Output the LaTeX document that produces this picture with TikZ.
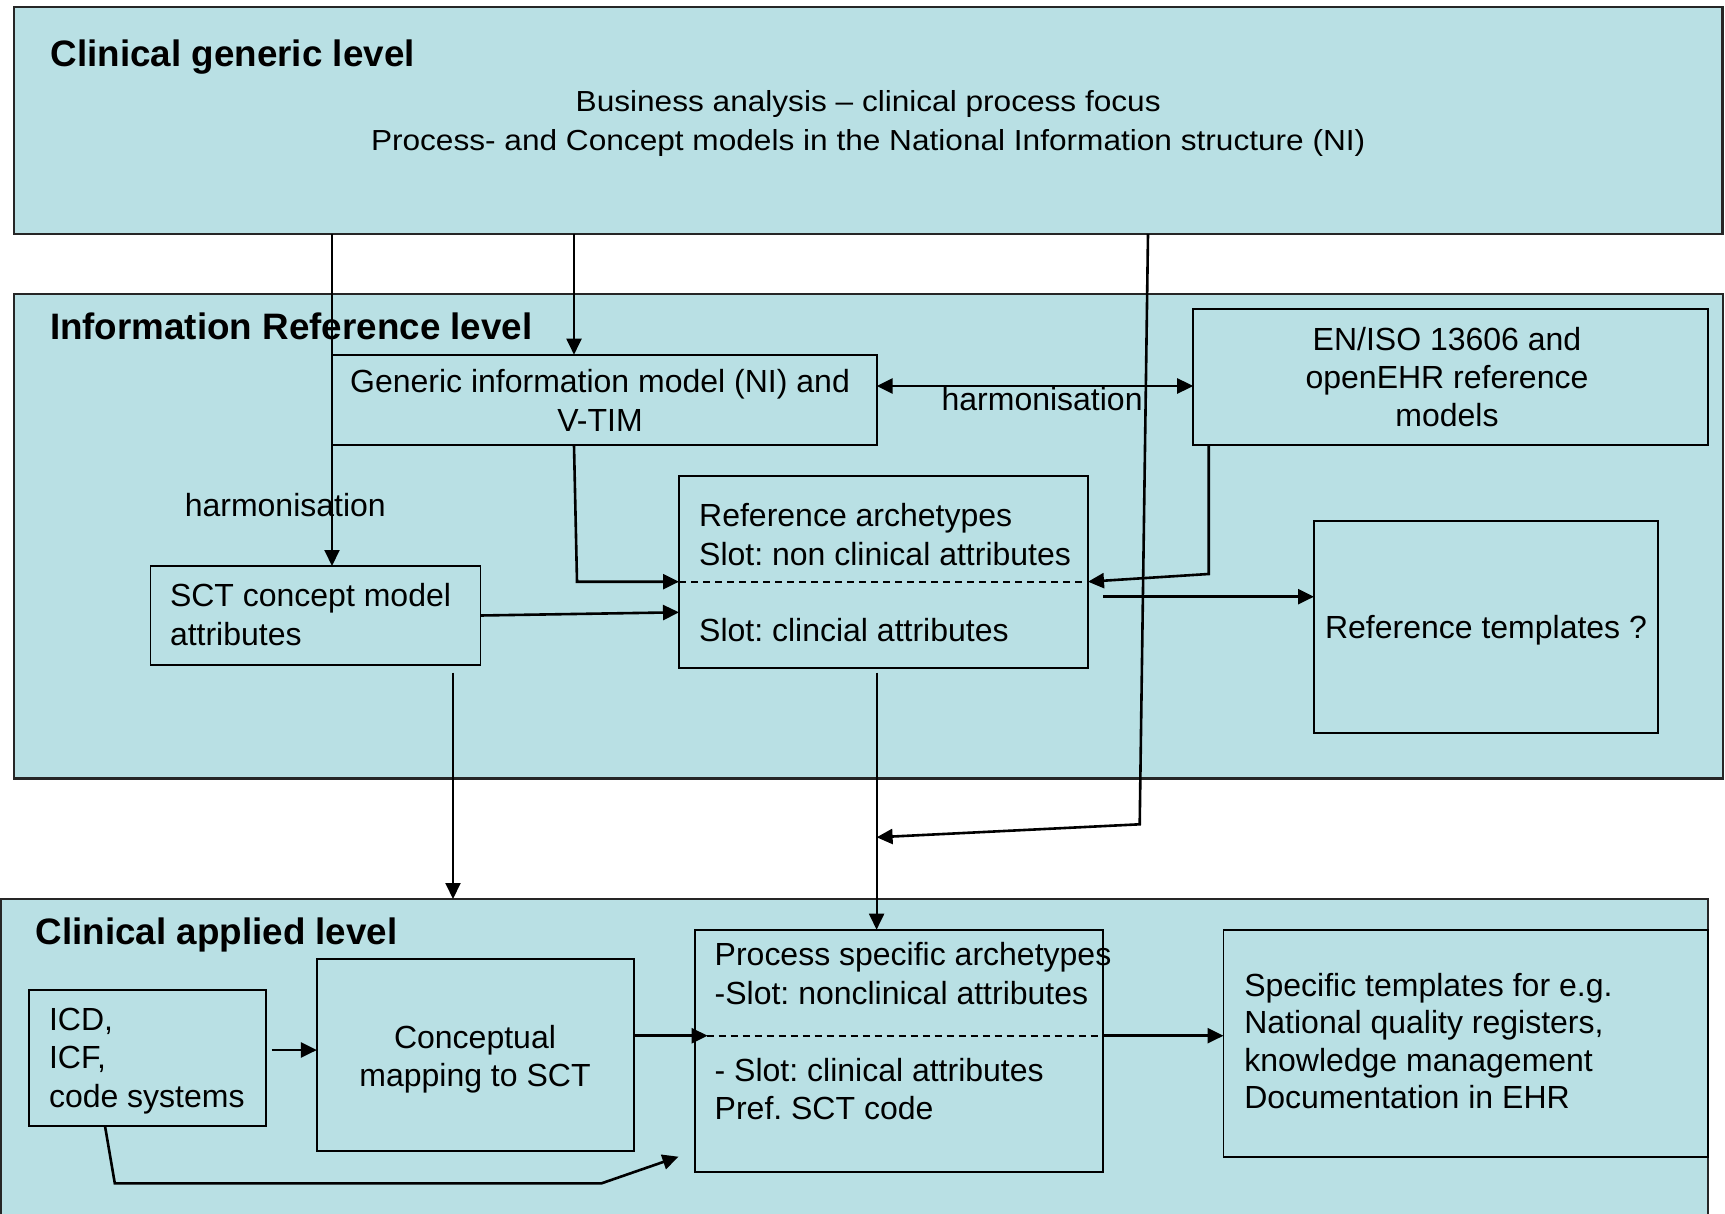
\documentclass[tikz,border=0pt]{standalone}
\usepackage{fontspec}
\setmainfont{Liberation Sans}
\newfontfamily\topfont{Liberation Sans}[FakeStretch=1.09]
\usetikzlibrary{arrows.meta,calc}
\definecolor{boxfill}{RGB}{185,224,228}
\frenchspacing
\newcommand\mkbox[6]{\node[#1, minimum width={(#5-#3)*0.5pt}, minimum height={(#6-#4)*0.5pt}, anchor=north west] (#2) at (#3,#4) {};}
\begin{document}
\begin{tikzpicture}[x=0.5pt,y=-0.5pt,
  lvl/.style={draw=black!85, line width=1.2pt, fill=boxfill, inner sep=0pt, outer sep=0pt},
  ibox/.style={draw=black, line width=0.9pt, fill=boxfill, inner sep=0pt, outer sep=0pt},
  txt/.style={inner sep=0pt, outer sep=0pt, font=\frenchspacing\fontsize{16}{19.2}\selectfont, align=left, anchor=base west},
  ctxt/.style={txt, align=center, anchor=base},
  toptxt/.style={inner sep=0pt, outer sep=0pt, font=\topfont\fontsize{14.5}{19.6}\selectfont, align=center, anchor=base},
  ttl/.style={inner sep=0pt, outer sep=0pt, anchor=base west, font=\fontsize{18.4}{22}\selectfont\bfseries},
  conn/.style={line width=1pt, -{Triangle[length=8pt,width=7.5pt]}},
  connb/.style={conn, line width=1.3pt},
  dbl/.style={line width=1.3pt, {Triangle[length=8pt,width=7.5pt]}-{Triangle[length=8pt,width=7.5pt]}},
  dashline/.style={line width=0.9pt, dash pattern=on 3.5pt off 2.5pt}
]
\useasboundingbox (0,0) rectangle (1725,1214);
\clip (0,0) rectangle (1725,1214);
\fill[white] (0,0) rectangle (1725,1214);

% level boxes
\mkbox{lvl}{lvlA}{13.8}{7.3}{1722.6}{234}
\mkbox{lvl}{lvlB}{13.8}{294}{1723}{778.3}
\mkbox{lvl}{lvlC}{1}{899}{1708}{1260}

% inner boxes
\mkbox{ibox}{gen}{332}{354.7}{876.6}{445.3}
\mkbox{ibox}{iso}{1193.2}{309.3}{1707.9}{445.3}
\mkbox{ibox}{sct}{150.4}{566}{480.5}{665}
\mkbox{ibox}{refa}{679}{476}{1088}{668}
\mkbox{ibox}{reft}{1314}{521.3}{1658.3}{733.3}
\mkbox{ibox}{icd}{29.3}{990}{266}{1126}
\mkbox{ibox}{map}{316.9}{959.3}{634.3}{1151}
\mkbox{ibox}{proc}{694.6}{929.7}{1102.7}{1171.7}
\mkbox{ibox}{spec}{1223.5}{929.7}{1708}{1156.7}

% dashed separators
\coordinate (dashL) at ($(refa.north west)+(0,105.7)$);
\coordinate (dashR) at ($(refa.north east)+(0,105.7)$);
\coordinate (pdL) at ($(proc.north west)+(0,106)$);
\coordinate (pdR) at ($(proc.north east)+(0,106)$);
\draw[dashline] (dashL) -- (dashR);
\draw[dashline] (pdL) -- (pdR);

% texts (multi-line nodes are placed at the baseline of their last line)
\node[ttl] (tA1) at (50.7,66.7) {Clinical generic level};
\node[toptxt] (tA2) at (868.2,151) {Business analysis – clinical process focus\\Process- and Concept models in the National Information structure (NI)};
\node[ttl] (tB1) at (50,340) {Information Reference level};
\node[ctxt, font=\fontsize{16}{19.5}\selectfont] (tgen) at (600,431.7) {Generic information model (NI) and\\V-TIM};
\node[ctxt, font=\fontsize{16}{19}\selectfont] (tiso) at (1447,426.7) {EN/ISO 13606 and\\openEHR reference\\models};
\node[txt] (th1) at (941.6,410) {harmonisation};
\node[txt] (th2) at (184.8,516.7) {harmonisation};
\node[txt] (trefa1) at (699.2,565) {Reference archetypes\\Slot: non clinical attributes};
\node[txt] (trefa2) at (699.2,641.7) {Slot: clincial attributes};
\node[ctxt] (treft) at (1486,638.3) {Reference templates ?};
\node[txt] (tsct) at (170,645) {SCT concept model\\attributes};
\node[ttl] (tC1) at (35.6,944) {Clinical applied level};
\node[txt] (ticd) at (49,1107.3) {ICD,\\ICF,\\code systems};
\node[ctxt, font=\fontsize{16}{18.85}\selectfont] (tmap) at (475,1086) {Conceptual\\mapping to SCT};
\node[txt, font=\frenchspacing\fontsize{16}{19.5}\selectfont] (tproc1) at (714.7,1004) {Process specific archetypes\\-Slot: nonclinical attributes};
\node[txt, font=\frenchspacing\fontsize{16}{18.8}\selectfont] (tproc2) at (714.7,1119.3) {- Slot: clinical attributes\\Pref. SCT code};
\node[txt, font=\frenchspacing\fontsize{16}{18.6}\selectfont] (tspec) at (1244.3,1108.3) {Specific templates for e.g.\\National quality registers,\\knowledge management\\Documentation in EHR};

% connector coordinates
\coordinate (gtop) at ($(gen.north west)+(242,0)$);
\coordinate (aS) at ($(lvlA.south west)+(1134.2,0)$);
\coordinate (kA) at (1139.7,824.3);
\coordinate (tA) at (876.6,837.3);
\coordinate (hh) at ($(gen.north east)+(0,31.3)$);
\coordinate (rr) at ($(refa.south east)+(15.3,-71.3)$);
\coordinate (sd) at ($(sct.south west)+(302.6,7.7)$);
\coordinate (rd) at ($(refa.south west)+(197.6,4.7)$);
\coordinate (ia) at ($(icd.east)+(5.7,-8)$);
\coordinate (ib) at ($(icd.south west)+(75.7,0)$);

% connectors
\draw[conn] (gen.west |- lvlA.south) -- (gen.west |- sct.north);
\draw[conn] (lvlA.south -| gtop) -- (gtop);
\draw[connb] (aS) -- (kA) -- (tA);
\draw[dbl] (hh) -- (iso.west |- hh);
\draw[connb] (gen.south -| gtop) -- ++(3,136.4) -- (dashL);
\draw[connb] (sct.east) -- ($(refa.north west)+(0,136.3)$);
\draw[connb] ($(iso.south west)+(15.5,0)$) -- ++(0,128.7) -- (dashR);
\draw[connb] (rr) -- (reft.west |- rr);
\draw[conn] (sd) -- (sd |- lvlC.north);
\draw[conn] (rd) -- (rd |- proc.north);
\draw[connb] (ia) -- (map.west |- ia);
\draw[connb] (map.east |- pdL) -- ($(pdL)+(13,0)$);
\draw[connb] (pdR) -- (spec.west |- pdR);
\draw[connb] (ib) -- ++(9.8,57.3) -- ++(486.8,0) -- ($(proc.south west)+(-16.1,-15)$);
\end{tikzpicture}
\end{document}
